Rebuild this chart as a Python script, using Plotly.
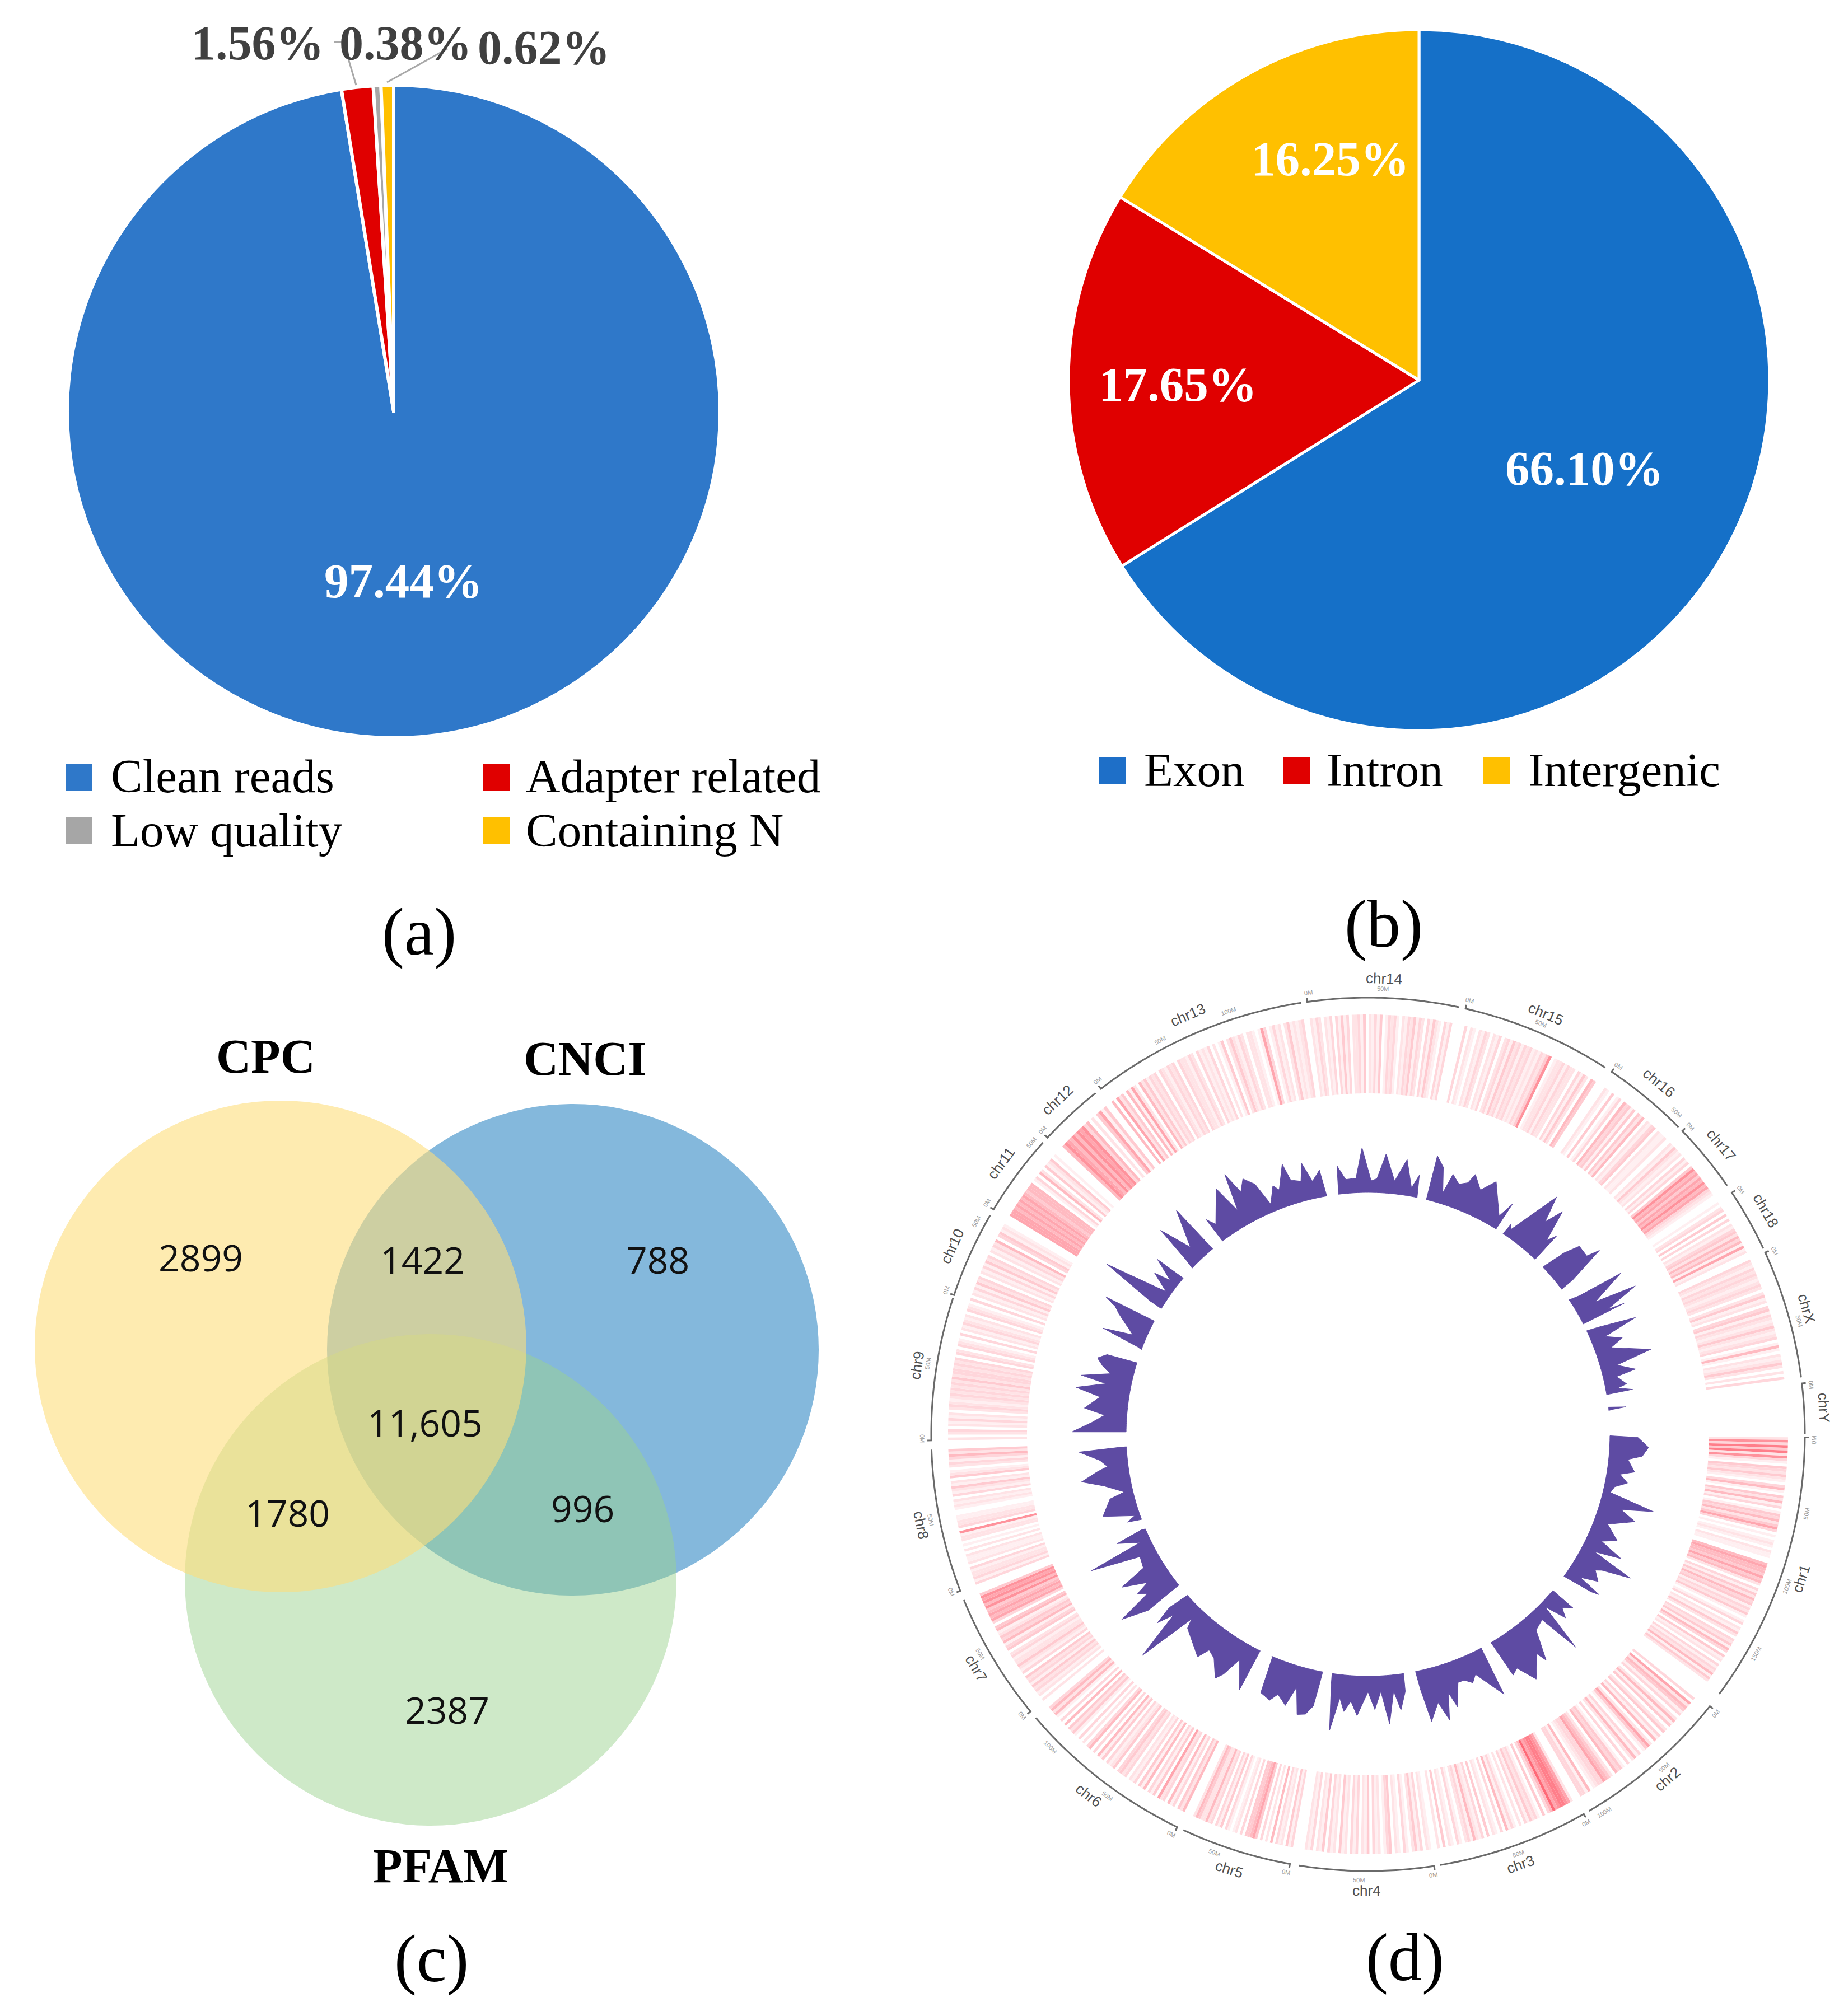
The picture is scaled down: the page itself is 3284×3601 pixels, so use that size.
import numpy as np
import plotly.graph_objects as go

W, H = 3284, 3601

# ---- panel (a)
READS_LABELS = ["Clean reads", "Adapter related", "Low quality", "Containing N"]
READS_VALUES = [97.44, 1.56, 0.38, 0.62]
READS_COLORS = ["#2F78C9", "#E00000", "#A6A6A6", "#FFC000"]

# ---- panel (b)
REGION_LABELS = ["Exon", "Intron", "Intergenic"]
REGION_VALUES = [66.10, 17.65, 16.25]
REGION_COLORS = ["#1570C8", "#E00000", "#FFC000"]

# ---- panel (c)
VENN_NAMES = ["CPC", "CNCI", "PFAM"]
VENN_COUNTS = ["2899", "1422", "788", "11,605", "1780", "996", "2387"]

# ---- panel (d): chromosome spans, clockwise degrees from 3 o'clock
CHR_NAMES = ["chr1", "chr2", "chr3", "chr4", "chr5", "chr6", "chr7", "chr8", "chr9", "chr10",
             "chr11", "chr12", "chr13", "chr14", "chr15", "chr16", "chr17", "chr18", "chrX", "chrY"]
CHR_START = [0.4, 38.5, 60.4, 81.3, 100.3, 115.9, 140.6, 159.0, 179.2, 198.6,
             211.0, 222.8, 232.3, 262.0, 282.9, 303.9, 316.0, 326.4, 335.4, 353.3]
CHR_END = [36.5, 59.6, 80.5, 99.1, 115.0, 139.5, 157.7, 178.0, 198.2, 210.1,
           221.9, 231.4, 261.2, 282.0, 302.9, 315.3, 325.3, 334.8, 352.5, 360.0]

# density heat track: one string per chromosome, one digit per bin, 0 = none, 9 = densest
DENSITY = {
    "chr1": "273848273104324210351042513014352463010121021100565546452031425341324101302142032415304120313251420",
    "chr2": "0306254130251402403150264103152030143502456332105133",
    "chr3": "0267887695304013241302013150301204031251320130120402",
    "chr4": "1203142013012043102130412031302140213041203120",
    "chr5": "31402130502030465440302101304130325224520",
    "chr6": "5240315032604130514031203243042130415030530203014240503015253",
    "chr7": "202132413240312422132043153421540365654757674",
    "chr8": "3132213021120201022170322110012120312412042102313524",
    "chr9": "20230213120232123232324233232303203210302132120321",
    "chr10": "30213142302131423021325034121",
    "chr11": "0666565656545550130520412401",
    "chr12": "0576575767350204614",
    "chr13": "50624051620524132303213230322132031213020140242132022101630131202412123",
    "chr14": "2132021303141302231402131401323102132413203142103130",
    "chr15": "0302102132021302314231323121324701223132203142054",
    "chr16": "0210401305341404250213402112",
    "chr17": "214212031304756465756321",
    "chr18": "1023040302134253516120",
    "chrX": "3213232123202412034132124212301510212420203",
    "chrY": "",
}

# area track: per chromosome [degree, height] peaks and notches
CHR1_PEAKS = [[1.6, 50], [3.6, 70], [5.5, 60], [6.5, 35], [9, 50], [10, 25], [11.6, 41], [13, 20], [14.5, 15], [16, 98], [17.5, 42], [19, 72], [21.5, 28], [24, 55], [25.5, 30], [27, 75], [28.3, 27], [29.5, 106], [31, 55], [31.7, 45], [33.4, 60], [34.8, 30], [35.5, 75], [36, 60]]
CHR2_PEAKS = [[41, 53], [42.5, 38], [43.6, 55], [45, 15], [46.3, 105], [47.5, 28], [50, 35], [52.3, 88], [53, 69], [56, 105], [58, 70], [59.4, 77]]
CHR3_PEAKS = [[62.8, 99], [66.3, 45], [67.5, 57], [69, 47], [70.4, 47], [72.1, 88], [73, 59], [74.3, 106], [75.6, 71], [77.7, 101], [78.6, 40]]
CHR4_PEAKS = [[81.9, 40], [83.3, 72], [84.4, 37], [85.8, 95], [87.2, 36], [88.6, 68], [90, 36], [92.2, 79], [93.6, 54], [94.9, 73], [96, 50], [97.3, 109], [98.2, 30]]
CHR5_PEAKS = [[100.8, 30], [101.2, 71], [102.4, 88], [104, 92], [105.5, 45], [106.7, 82], [108.8, 67], [110, 82], [112.2, 75], [112.8, 10]]
CHR6_PEAKS = [[116.3, 86], [119.2, 39], [120.6, 75], [121.6, 89], [124, 60], [125.8, 53], [126.9, 75], [129.8, 59], [132.3, 47], [133, 30], [135, 138], [136.4, 48], [137.5, 78], [138.2, 45]]
CHR7_PEAKS = [[140.6, 76], [142.4, 123], [143.4, 59], [144.6, 73], [145.3, 47], [147.4, 90], [148.4, 39], [150.9, 34], [153, 122], [153.7, 22], [155.6, 60], [156.2, 10]]
CHR8_PEAKS = [[159.0, 28], [159.8, 12], [161.9, 66], [165, 45], [165.7, 17], [168, 50], [169.7, 88], [171.2, 57], [172, 38], [173.5, 50], [175.6, 86], [176, 10]]
CHR9_PEAKS = [[179.6, 97], [181.5, 62], [183.2, 39], [184.4, 76], [187, 50], [188.3, 95], [190, 43], [190.8, 89], [192.3, 39], [193.5, 55], [194.9, 68], [196.1, 53]]
CHR10_PEAKS = [[199.8, 5], [201, 75], [202, 21], [205, 59], [206, 70], [206.9, 93]]
CHR11_PEAKS = [[210.6, 20], [212.4, 120], [214.4, 5], [216.3, 41], [217.1, 11], [219, 52]]
CHR12_PEAKS = [[223.0, 10], [223.9, 82], [225.8, 23], [228.9, 89]]
CHR13_PEAKS = [[232.4, 42], [233.5, 25], [237.8, 77], [239.3, 24], [240.7, 91], [241.9, 50], [243.5, 69], [245.3, 51], [246.7, 7], [248.7, 36], [249.7, 25], [252.1, 67], [252.8, 35], [254.9, 28], [256, 59], [257.4, 23], [259.4, 40]]
CHR14_PEAKS = [[263.4, 51], [265, 25], [267.3, 26], [268.8, 80], [270.7, 21], [272, 25], [273.7, 70], [276, 23], [278.1, 64], [280, 15], [281.2, 40]]
CHR15_PEAKS = [[284.2, 73], [286, 56], [287.5, 12], [288.4, 49], [290.3, 36], [292, 44], [292.8, 63], [295.1, 41], [297.3, 67], [301.5, 16], [302.6, 47]]
CHR16_PEAKS = [[304.8, 15], [305.5, 8], [309, 103], [310.4, 56], [311.7, 90], [313.3, 33], [314.2, 51]]
CHR17_PEAKS = [[317.9, 39], [319, 68], [321.5, 67], [322.2, 91], [323.8, 20]]
CHR18_PEAKS = [[327.6, 15], [328.2, 99], [330.6, 34], [331.7, 110], [333.3, 47], [333.7, 78]]
CHRX_PEAKS = [[336, 20], [337.2, 86], [338.5, 23], [340.1, 51], [341.3, 26], [344.1, 93], [345.4, 27], [347.2, 58], [347.9, 22], [349.9, 37], [350.5, 20], [351.3, 46]]
CHRY_PEAKS = [[354.9, 30], [355.2, 8]]
AREA_PEAKS = [CHR1_PEAKS, CHR2_PEAKS, CHR3_PEAKS, CHR4_PEAKS, CHR5_PEAKS, CHR6_PEAKS, CHR7_PEAKS,
              CHR8_PEAKS, CHR9_PEAKS, CHR10_PEAKS, CHR11_PEAKS, CHR12_PEAKS, CHR13_PEAKS, CHR14_PEAKS,
              CHR15_PEAKS, CHR16_PEAKS, CHR17_PEAKS, CHR18_PEAKS, CHRX_PEAKS, CHRY_PEAKS]
AREA_START = [1.4, 41, 62.6, 81.7, 100.6, 116, 140.6, 158.4, 179.5, 199.5, 210.4, 222.6, 232.4, 263, 284.2, 304.5, 317, 327.1, 335.6, 354.6]
AREA_END = [36.8, 60, 78.9, 98.4, 113.0, 137.5, 156, 176, 196.2, 207, 219.4, 229.4, 260, 281.7, 302.5, 314.4, 324, 333.8, 351.6, 355.4]
AREA_READ_DY = [8, 8, 8, 8, 8, 8, 8, 8, 8, 8, 8, 8, 8, 0, 8, 8, 8, 8, 8, 8]  # px offset of the crop each chromosome was read from

MB_PER_TICK_DEG = 9.6

# ---- layout constants
CIRC_X, CIRC_Y, CIRC_R = 2443, 2562, 830
R_BASE, R_BAND0, R_BAND1, R_ARC = 432, 609, 750, 780
SERIF = "Liberation Serif"
SANS = "Liberation Sans"


def pie_domain(cx, cy, r):
    return dict(x=[(cx - r) / W, (cx + r) / W], y=[1 - (cy + r) / H, 1 - (cy - r) / H])


def reread(theta, h, dy):
    """Shift a value read with the crop offset dy back onto the ring centre."""
    a = np.radians(theta)
    r = R_BASE + h
    x = r * np.cos(a)
    y = r * np.sin(a) - dy
    t = float(np.degrees(np.arctan2(y, x)))
    t += 360 * round((theta - t) / 360)
    return t, float(max(np.hypot(x, y) - R_BASE, 0))


fig = go.Figure()

fig.add_trace(go.Pie(labels=READS_LABELS, values=READS_VALUES, sort=False, direction="clockwise", rotation=0,
                     textinfo="none", marker=dict(colors=READS_COLORS, line=dict(color="white", width=6)),
                     domain=pie_domain(703, 735, 583), showlegend=False))
fig.add_trace(go.Pie(labels=REGION_LABELS, values=REGION_VALUES, sort=False, direction="clockwise", rotation=0,
                     textinfo="none", marker=dict(colors=REGION_COLORS, line=dict(color="white", width=5)),
                     domain=pie_domain(2534, 679, 626), showlegend=False))

# heat track
th, wd, cv = [], [], []
for name, s, e in zip(CHR_NAMES, CHR_START, CHR_END):
    row = DENSITY[name]
    if not row:
        continue
    step = (e - s) / len(row)
    for i, ch in enumerate(row):
        th.append(s + (i + 0.5) * step)
        wd.append(step)
        cv.append(int(ch))
fig.add_trace(go.Barpolar(theta=th, width=wd, r=[R_BAND1 - R_BAND0] * len(th), base=[R_BAND0] * len(th),
                          marker=dict(color=cv, cmin=0, cmax=9, showscale=False, line=dict(width=0),
                                      colorscale=[[0, "#FFFFFF"], [0.12, "#FFEEF0"], [0.5, "#FFC4CA"], [1, "#FF6A78"]]),
                          subplot="polar", showlegend=False))

# area track
for pk, s, e, dy in zip(AREA_PEAKS, AREA_START, AREA_END, AREA_READ_DY):
    pts = [reread(p[0], p[1], dy) for p in pk]
    s2 = reread(s, 0, dy)[0]
    e2 = reread(e, 0, dy)[0]
    arc = np.linspace(e2, s2, 30).tolist()
    t = [s2] + [p[0] for p in pts] + [e2] + arc
    r = [R_BASE] + [R_BASE + p[1] for p in pts] + [R_BASE] + [R_BASE] * len(arc)
    fig.add_trace(go.Scatterpolar(theta=t, r=r, mode="lines", fill="toself", fillcolor="#5E4BA3",
                                  line=dict(color="#5E4BA3", width=1), subplot="polar", showlegend=False))

# outer arcs
for s, e in zip(CHR_START, CHR_END):
    arc = np.linspace(s, e, 40).tolist()
    tt = [s] + arc
    rr = [R_ARC + 7] + [R_ARC] * len(arc)
    fig.add_trace(go.Scatterpolar(theta=tt, r=rr, mode="lines", line=dict(color="#6A6A6A", width=3),
                                  subplot="polar", showlegend=False))

shapes = []
# venn circles (blue below, green, yellow on top)
for cx, cy, r, col in [(1023, 2411, 439, "rgb(132,184,220)"),
                       (769, 2822, 439, "rgba(155,210,142,0.49)"),
                       (501, 2405, 439, "rgba(253,222,123,0.6)")]:
    shapes.append(dict(type="circle", xref="x", yref="y", x0=cx - r, x1=cx + r, y0=cy - r, y1=cy + r,
                       fillcolor=col, line=dict(width=0), layer="below"))

# legend swatches
for x, y, s, col in [(117, 1364, 48, READS_COLORS[0]), (863, 1364, 48, READS_COLORS[1]),
                     (117, 1459, 48, READS_COLORS[2]), (863, 1459, 48, READS_COLORS[3]),
                     (1962, 1352, 48, "#1E6FC8"), (2291, 1352, 48, "#E00000"), (2648, 1352, 48, "#FFC000")]:
    shapes.append(dict(type="rect", xref="x", yref="y", x0=x, x1=x + s, y0=y, y1=y + s,
                       fillcolor=col, line=dict(width=0)))

# leader lines
for x0, y0, x1, y1 in [(622, 105, 636, 152), (799, 87, 691, 147), (597, 75, 612, 75)]:
    shapes.append(dict(type="line", xref="x", yref="y", x0=x0, y0=y0, x1=x1, y1=y1,
                       line=dict(color="#A9A9A9", width=3)))

ann = []


def txt(x, y, t, size, color="black", family=SERIF, bold=False, xanchor="center", angle=0):
    ann.append(dict(x=x, y=y, xref="x", yref="y", text=f"<b>{t}</b>" if bold else t, showarrow=False,
                    xanchor=xanchor, yanchor="middle", textangle=angle,
                    font=dict(family=family, size=size, color=color)))


DARK = "#404040"
txt(460, 77, "1.56%", 86, DARK, bold=True)
txt(724, 77, "0.38%", 86, DARK, bold=True)
txt(971, 85, "0.62%", 86, DARK, bold=True)
txt(720, 1037, "97.44%", 87, "white", bold=True)
txt(2829, 836, "66.10%", 87, "white", bold=True)
txt(2103, 686, "17.65%", 87, "white", bold=True)
txt(2375, 283, "16.25%", 87, "white", bold=True)

for x, y, t in [(196, 1386, READS_LABELS[0]), (937, 1386, READS_LABELS[1]),
                (196, 1483, READS_LABELS[2]), (937, 1483, READS_LABELS[3]),
                (2041, 1375, REGION_LABELS[0]), (2367, 1375, REGION_LABELS[1]), (2727, 1375, REGION_LABELS[2])]:
    txt(x, y, t, 85, xanchor="left")

txt(748, 1664, "(a)", 120)
txt(2471, 1650, "(b)", 120)
txt(770, 3498, "(c)", 120)
txt(2509, 3496, "(d)", 120)

for (x, y), t in zip([(474, 1887), (1045, 1891), (787, 3333)], VENN_NAMES):
    txt(x, y, t, 86, bold=True)
for (x, y), t in zip([(358, 2245), (754, 2249), (1174, 2249), (759, 2540), (513, 2701), (1040, 2693), (798, 3053)],
                     VENN_COUNTS):
    txt(x, y, t, 66, "#111111", family="Open Sans")


def polar_xy(theta, r):
    a = np.radians(theta)
    return CIRC_X + r * np.cos(a), CIRC_Y + r * np.sin(a)


for name, s, e in zip(CHR_NAMES, CHR_START, CHR_END):
    mid = (s + e) / 2
    x, y = polar_xy(mid, 815)
    angle = mid - 90 if mid < 180 else mid + 90
    if angle > 180:
        angle -= 360
    txt(float(x), float(y), name, 26, "#505050", family=SANS, angle=float(angle))
    k = 0
    while s + k * MB_PER_TICK_DEG < e - 1:
        th_k = s + k * MB_PER_TICK_DEG + 0.3
        x, y = polar_xy(th_k, 796)
        a2 = th_k - 90 if th_k < 180 else th_k + 90
        if a2 > 180:
            a2 -= 360
        txt(float(x), float(y), f"{k * 50}M", 11, "#9A9A9A", family=SANS, angle=float(a2))
        k += 1

fig.update_layout(
    width=W, height=H, margin=dict(l=0, r=0, t=0, b=0), autosize=False,
    paper_bgcolor="white", plot_bgcolor="rgba(0,0,0,0)", showlegend=False,
    xaxis=dict(range=[0, W], visible=False, domain=[0, 1], fixedrange=True),
    yaxis=dict(range=[H, 0], visible=False, domain=[0, 1], fixedrange=True),
    polar=dict(
        domain=dict(x=[(CIRC_X - CIRC_R) / W, (CIRC_X + CIRC_R) / W],
                    y=[1 - (CIRC_Y + CIRC_R) / H, 1 - (CIRC_Y - CIRC_R) / H]),
        bgcolor="rgba(0,0,0,0)", barmode="overlay",
        radialaxis=dict(visible=False, range=[0, CIRC_R]),
        angularaxis=dict(visible=False, rotation=0, direction="clockwise"),
    ),
    shapes=shapes, annotations=ann,
)
# keep cartesian axes alive for the shapes and labels
fig.add_trace(go.Scatter(x=[0, W], y=[0, H], mode="markers", marker=dict(opacity=0), hoverinfo="skip", showlegend=False))

fig.write_html("out.html", config={"displayModeBar": False}, post_script="document.body.style.margin='0';")
